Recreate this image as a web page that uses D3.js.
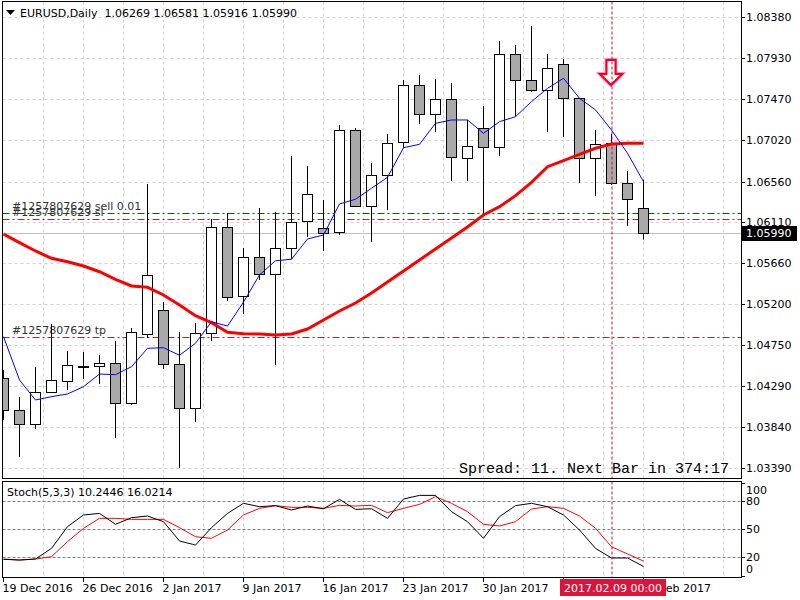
<!DOCTYPE html>
<html>
<head>
<meta charset="utf-8">
<script src="https://cdn.jsdelivr.net/npm/d3@7"></script>
<style>
  body { margin: 0; background: #fff; }
  svg { display: block; font-family: "DejaVu Sans", sans-serif; font-size: 11px; }
</style>
</head>
<body>
<div id="chart"></div>
<script>
// EURUSD daily bars, 19 Dec 2016 .. 13 Feb 2017
const symbol = "EURUSD";
const timeframe = "Daily";

const opens = [1.04382,1.04027,1.03872,1.04227,1.04349,1.04507,1.04507,1.04548,1.04105,1.04870,
  1.05136,1.04537,1.04049,1.04881,1.06056,1.05291,1.05723,1.05535,1.05823,1.06122,
  1.06045,1.06000,1.07131,1.06288,1.06632,1.06998,1.07630,1.07308,1.07474,1.06820,
  1.07153,1.06942,1.07973,1.07685,1.07574,1.07862,1.07486,1.06820,1.06987,1.06543,1.06269];
const highs = [1.04471,1.04171,1.04504,1.04981,1.04681,1.04670,1.04637,1.04792,1.04936,1.06532,
  1.05224,1.04892,1.04992,1.06144,1.06211,1.05823,1.06266,1.06222,1.06843,1.06732,
  1.06355,1.07186,1.07153,1.06765,1.07086,1.07685,1.07740,1.07696,1.07652,1.07242,
  1.07397,1.08117,1.08073,1.08284,1.07973,1.07918,1.07486,1.07131,1.07086,1.06676,1.06581];
const lows = [1.03916,1.03506,1.03817,1.04216,1.04249,1.04371,1.04315,1.03717,1.04083,1.04825,
  1.04482,1.03384,1.03894,1.04792,1.05235,1.05091,1.05468,1.04526,1.05701,1.05945,
  1.05790,1.05967,1.06277,1.05889,1.06244,1.06931,1.07197,1.07109,1.06566,1.06566,
  1.06211,1.06843,1.07286,1.07552,1.07109,1.07053,1.06543,1.06399,1.06520,1.06067,1.05916];
const closes = [1.04027,1.03872,1.04227,1.04360,1.04526,1.04515,1.04545,1.04105,1.04892,1.05524,
  1.04537,1.04049,1.04881,1.06056,1.05280,1.05723,1.05535,1.05823,1.06111,1.06421,
  1.05989,1.07131,1.06288,1.06632,1.06987,1.07630,1.07308,1.07474,1.06832,1.06953,
  1.06942,1.07973,1.07685,1.07574,1.07818,1.07486,1.06820,1.06976,1.06543,1.06366,1.05990];

// moving averages
const maSlow = [1.05978,1.05882,1.05790,1.05709,1.05671,1.05623,1.05560,1.05476,1.05402,1.05387,
  1.05302,1.05191,1.05073,1.04995,1.04889,1.04873,1.04870,1.04859,1.04870,1.04925,
  1.05025,1.05125,1.05213,1.05324,1.05446,1.05568,1.05690,1.05812,1.05934,1.06056,
  1.06189,1.06281,1.06403,1.06551,1.06724,1.06791,1.06861,1.06928,1.06976,1.06983,1.06983];
const maFast = [1.04840,1.04360,1.04138,1.04175,1.04205,1.04286,1.04426,1.04419,1.04507,1.04711,
  1.04718,1.04634,1.04767,1.05006,1.04958,1.05224,1.05524,1.05682,1.05698,1.05923,
  1.05967,1.06311,1.06363,1.06485,1.06607,1.06935,1.06972,1.07205,1.07242,1.07242,
  1.07094,1.07223,1.07278,1.07445,1.07593,1.07704,1.07482,1.07353,1.07131,1.06873,1.06558];

// Stochastic(5,3,3)
const stochMain = [17.9,17.1,18.2,29.6,52.9,65.4,67.1,55.4,62.5,64.3,
  58.2,37.5,33.2,51.8,67.1,77.9,74.3,75.4,70.7,75.0,
  72.1,82.1,71.4,72.1,61.8,82.5,86.4,86.4,68.9,58.2,
  40.4,63.6,75.4,77.9,74.3,65.4,49.3,29.6,19.3,19.3,10.2446];
const stochSignal = [18.2,17.1,18.2,20.7,36.8,51.1,61.8,61.8,60.7,60.7,
  60.7,51.8,42.1,40.4,49.3,65.4,72.5,75.4,73.6,73.6,
  72.5,75.7,75.0,75.7,67.9,72.5,76.8,85.0,77.9,68.9,
  55.4,53.6,58.2,71.8,74.3,72.5,64.3,51.1,31.4,23.6,16.0214];
const stochLevels = [80, 50, 20];
const stochAxisLabels = [100, 80, 50, 20, 0];

// axes
const priceTicks = [1.08380,1.07930,1.07470,1.07020,1.06560,1.06110,1.05660,1.05200,1.04750,1.04290,1.03840,1.03390];
const tickBars = [0, 5, 10, 15, 20, 25, 30, 35, 40];
const tickLabels = ["19 Dec 2016","26 Dec 2016","2 Jan 2017","9 Jan 2017","16 Jan 2017","23 Jan 2017","30 Jan 2017","6 Feb 2017","13 Feb 2017"];

// trade objects
const orderNames = ["#1257807629 sell 0.01", "#1257807629 sl", "#1257807629 tp"];
const orderPrices = [1.06208, 1.06141, 1.04840];
const bidPrice = 1.05990;
const cursorBar = 38;
const cursorLabel = "2017.02.09 00:00";
const arrowPrice = 1.07630;
const spreadText = "Spread: 11. Next Bar in 374:17";

class PriceChart {

    constructor(parentElement) {
        this.parentElement = parentElement;
        this.initVis();
    }

    initVis() {
        let vis = this;

        vis.main = {left: 2.5, right: 741.5, top: 1.5, bottom: 478.5};
        vis.sub = {left: 2.5, right: 741.5, top: 481.5, bottom: 577.5};

        vis.svg = d3.select("#" + vis.parentElement)
            .append("svg")
            .attr("width", 800)
            .attr("height", 600);

        // 16px per bar
        vis.x = d3.scaleLinear().domain([0, 1]).range([3.5, 19.5]);
        vis.y = d3.scaleLinear().domain([1.03390, 1.08380]).range([467.5, 17.3]);
        vis.ys = d3.scaleLinear().domain([0, 100]).range([576, 482.7]);

        vis.svg.append("clipPath").attr("id", "clipMain")
            .append("rect").attr("x", 3).attr("y", 2).attr("width", 738).attr("height", 476);
        vis.svg.append("clipPath").attr("id", "clipSub")
            .append("rect").attr("x", 3).attr("y", 482).attr("width", 738).attr("height", 95);

        vis.drawGrid();
        vis.drawMain();
        vis.drawStoch();
        vis.drawAxes();
    }

    drawGrid() {
        let vis = this;
        let gridBars = d3.range(1, 19).map(j => j * 2.5);

        // vertical grid in both panels
        [vis.main, vis.sub].forEach(p => {
            vis.svg.append("g").selectAll("line")
                .data(gridBars).enter().append("line")
                .attr("x1", d => vis.x(d)).attr("x2", d => vis.x(d))
                .attr("y1", p.top).attr("y2", p.bottom)
                .attr("stroke", "#d0d0d0")
                .attr("stroke-dasharray", "3,3");
        });

        vis.svg.append("g").selectAll("line")
            .data(priceTicks).enter().append("line")
            .attr("x1", vis.main.left).attr("x2", vis.main.right)
            .attr("y1", d => Math.round(vis.y(d)) + 0.5)
            .attr("y2", d => Math.round(vis.y(d)) + 0.5)
            .attr("stroke", "#d0d0d0")
            .attr("stroke-dasharray", "3,3");
    }

    drawMain() {
        let vis = this;
        let g = vis.svg.append("g").attr("clip-path", "url(#clipMain)");

        // bid line
        g.append("line")
            .attr("x1", vis.main.left).attr("x2", vis.main.right)
            .attr("y1", Math.round(vis.y(bidPrice)) + 0.5)
            .attr("y2", Math.round(vis.y(bidPrice)) + 0.5)
            .attr("stroke", "#c0c0c0");

        // order lines
        let orderColors = ["#006400", "#a52a2a", "#a52a2a"];
        g.selectAll(".order")
            .data(orderPrices).enter().append("line")
            .attr("x1", vis.main.left).attr("x2", vis.main.right)
            .attr("y1", d => Math.round(vis.y(d)) + 0.5)
            .attr("y2", d => Math.round(vis.y(d)) + 0.5)
            .attr("stroke", (d, i) => orderColors[i])
            .attr("stroke-dasharray", "7,3,2,3");

        g.selectAll(".orderText")
            .data(orderPrices).enter().append("text")
            .attr("x", 12)
            .attr("y", d => vis.y(d) - 3)
            .attr("fill", "#333")
            .text((d, i) => orderNames[i]);

        // candles
        let bars = d3.range(opens.length);
        g.selectAll(".wick")
            .data(bars).enter().append("line")
            .attr("x1", d => vis.x(d)).attr("x2", d => vis.x(d))
            .attr("y1", d => vis.y(highs[d])).attr("y2", d => vis.y(lows[d]))
            .attr("stroke", "#000");

        g.selectAll(".body")
            .data(bars).enter().append("rect")
            .attr("x", d => vis.x(d) - 5)
            .attr("width", 10)
            .attr("y", d => Math.round(vis.y(Math.max(opens[d], closes[d]))) + 0.5)
            .attr("height", d => Math.max(1, Math.round(Math.abs(vis.y(opens[d]) - vis.y(closes[d])))))
            .attr("fill", d => closes[d] >= opens[d] ? "#ffffff" : "#a9a9a9")
            .attr("stroke", "#000");

        // moving averages
        let maLine = arr => d3.line().x((d, i) => vis.x(i)).y(d => vis.y(d))(arr);
        g.append("path").attr("d", maLine(maSlow))
            .attr("fill", "none").attr("stroke", "#ff0000").attr("stroke-width", 3);
        g.append("path").attr("d", maLine(maFast))
            .attr("fill", "none").attr("stroke", "#0000ff").attr("stroke-width", 1);

        // sell arrow
        let ax = vis.x(cursorBar) - 0.5, ay = vis.y(arrowPrice);
        let arrow = [[0, 0], [-11, -11], [-4.5, -11], [-4.5, -25], [4.5, -25], [4.5, -11], [11, -11]];
        g.append("path")
            .attr("d", d3.line()(arrow.map(p => [ax + p[0], ay + p[1]])) + "Z")
            .attr("fill", "#fff").attr("stroke", "#ff66ff").attr("stroke-width", 3.5)
            .attr("stroke-linejoin", "miter");
        g.append("path")
            .attr("d", d3.line()(arrow.map(p => [ax + p[0], ay + p[1]])) + "Z")
            .attr("fill", "#fff").attr("stroke", "#ff0000").attr("stroke-width", 2)
            .attr("stroke-linejoin", "miter");

        // header
        vis.svg.append("path")
            .attr("d", "M6,10L15,10L10.5,15Z").attr("fill", "#000");
        let last = opens.length - 1;
        vis.svg.append("text")
            .attr("x", 20).attr("y", 17)
            .style("white-space", "pre")
            .text(symbol + "," + timeframe + "  " + [opens[last], highs[last], lows[last], closes[last]].map(v => v.toFixed(5)).join(" "));

        vis.svg.append("text")
            .attr("x", 729).attr("y", 473)
            .attr("text-anchor", "end")
            .style("font-family", "'Liberation Mono', monospace")
            .style("font-size", "15px")
            .style("white-space", "pre")
            .text(spreadText);
    }

    drawStoch() {
        let vis = this;
        let g = vis.svg.append("g").attr("clip-path", "url(#clipSub)");

        g.selectAll(".level")
            .data(stochLevels).enter().append("line")
            .attr("x1", vis.sub.left).attr("x2", vis.sub.right)
            .attr("y1", d => Math.round(vis.ys(d)) + 0.5)
            .attr("y2", d => Math.round(vis.ys(d)) + 0.5)
            .attr("stroke", "#808080")
            .attr("stroke-dasharray", "3,2");

        let line = d3.line().x((d, i) => vis.x(i)).y(d => vis.ys(d));
        g.append("path").attr("d", line(stochSignal))
            .attr("fill", "none").attr("stroke", "#ff0000");
        g.append("path").attr("d", line(stochMain))
            .attr("fill", "none").attr("stroke", "#000");

        vis.svg.append("text")
            .attr("x", 7).attr("y", 496)
            .text("Stoch(5,3,3) " + stochMain[stochMain.length - 1].toFixed(4) + " " + stochSignal[stochSignal.length - 1].toFixed(4));
    }

    drawAxes() {
        let vis = this;

        // crosshair
        let cx = vis.x(cursorBar) + 0.5;
        [vis.main, vis.sub].forEach(p => {
            vis.svg.append("line")
                .attr("x1", cx).attr("x2", cx)
                .attr("y1", p.top).attr("y2", p.bottom)
                .attr("stroke", "#c8103c")
                .attr("stroke-dasharray", "3,2");
        });

        // panel frames
        [vis.main, vis.sub].forEach(p => {
            vis.svg.append("rect")
                .attr("x", p.left).attr("y", p.top)
                .attr("width", p.right - p.left).attr("height", p.bottom - p.top)
                .attr("fill", "none").attr("stroke", "#000");
        });

        // price axis
        let pa = vis.svg.append("g");
        pa.selectAll("line").data(priceTicks).enter().append("line")
            .attr("x1", vis.main.right).attr("x2", 745)
            .attr("y1", d => Math.round(vis.y(d)) + 0.5)
            .attr("y2", d => Math.round(vis.y(d)) + 0.5)
            .attr("stroke", "#000");
        pa.selectAll("text").data(priceTicks).enter().append("text")
            .attr("x", 746).attr("y", d => vis.y(d) + 4)
            .text(d => d.toFixed(5));

        let by = Math.round(vis.y(bidPrice));
        vis.svg.append("rect")
            .attr("x", 742).attr("y", by - 7).attr("width", 55).attr("height", 15)
            .attr("fill", "#000");
        vis.svg.append("text")
            .attr("x", 746).attr("y", by + 4)
            .attr("fill", "#fff")
            .text(bidPrice.toFixed(5));

        // stoch axis
        let sy = d => Math.min(569, Math.max(490, vis.ys(d)));
        let sa = vis.svg.append("g");
        sa.selectAll("line").data(stochAxisLabels).enter().append("line")
            .attr("x1", vis.sub.right).attr("x2", 745)
            .attr("y1", d => Math.round(Math.min(576, Math.max(483, vis.ys(d)))) + 0.5)
            .attr("y2", d => Math.round(Math.min(576, Math.max(483, vis.ys(d)))) + 0.5)
            .attr("stroke", "#000");
        sa.selectAll("text").data(stochAxisLabels).enter().append("text")
            .attr("x", 746).attr("y", d => sy(d) + 4)
            .text(d => d);

        // date axis
        let da = vis.svg.append("g");
        da.selectAll("line").data(tickBars).enter().append("line")
            .attr("x1", d => vis.x(d)).attr("x2", d => vis.x(d))
            .attr("y1", vis.sub.bottom).attr("y2", 582)
            .attr("stroke", "#000");
        da.selectAll("text").data(tickBars).enter().append("text")
            .attr("x", d => vis.x(d) - 1).attr("y", 592)
            .text((d, i) => tickLabels[i]);

        vis.svg.append("rect")
            .attr("x", cx - 52).attr("y", 579).attr("width", 106).attr("height", 17)
            .attr("fill", "#dc143c");
        vis.svg.append("text")
            .attr("x", cx + 1).attr("y", 592)
            .attr("text-anchor", "middle")
            .attr("fill", "#fff")
            .text(cursorLabel);
    }
}

new PriceChart("chart");
</script>
</body>
</html>
